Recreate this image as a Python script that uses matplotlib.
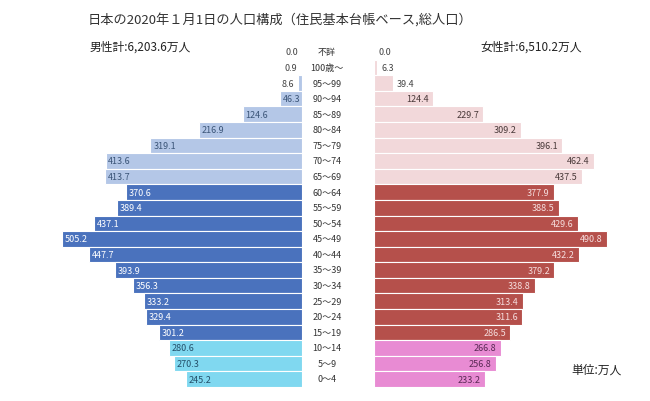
import matplotlib.pyplot as plt

plt.rcParams['font.family'] = ['Noto Sans CJK JP', 'DejaVu Sans']

ages = ['不詳', '100歳～', '95～99', '90～94', '85～89', '80～84', '75～79', '70～74',
        '65～69', '60～64', '55～59', '50～54', '45～49', '40～44', '35～39', '30～34',
        '25～29', '20～24', '15～19', '10～14', '5～9', '0～4']
male = [0.0, 0.9, 8.6, 46.3, 124.6, 216.9, 319.1, 413.6, 413.7, 370.6, 389.4, 437.1,
        505.2, 447.7, 393.9, 356.3, 333.2, 329.4, 301.2, 280.6, 270.3, 245.2]
female = [0.0, 6.3, 39.4, 124.4, 229.7, 309.2, 396.1, 462.4, 437.5, 377.9, 388.5, 429.6,
          490.8, 432.2, 379.2, 338.8, 313.4, 311.6, 286.5, 266.8, 256.8, 233.2]


def group(i):
    # 0 = 65+ (and unknown), 1 = 15-64, 2 = 0-14
    if i <= 8:
        return 0
    if i <= 18:
        return 1
    return 2


m_bar = ['#b4c7e7', '#4a72bd', '#80d8f0']
m_txt = ['#3b5578', 'white', '#24506a']
f_bar = ['#f2d8da', '#b5504b', '#e88bd3']
f_txt = ['#4a3a3a', '#f5dede', '#5a2a55']

W, H = 650, 402
fig = plt.figure(figsize=(6.5, 4.02), dpi=100)
xmax = 520
bottom = 1 - 387.8 / H
height = 342.6 / H
axl = fig.add_axes([302 / W - 247 / W, bottom, 247 / W, height])
axr = fig.add_axes([374 / W, bottom, 247 / W, height])

n = len(ages)
ys = list(range(n))
for ax in (axl, axr):
    ax.set_xlim(0, xmax)
    ax.set_ylim(n - 0.5, -0.5)
    ax.axis('off')
axl.invert_xaxis()

for i in ys:
    g = group(i)
    axl.barh(i, male[i], height=1.0, color=m_bar[g], edgecolor='white', linewidth=0.8)
    axr.barh(i, female[i], height=1.0, color=f_bar[g], edgecolor='white', linewidth=0.8)
    if male[i] >= 40:
        axl.annotate(f'{male[i]:.1f}', (male[i], i), xytext=(2, 0), textcoords='offset points',
                     ha='left', va='center', fontsize=6.5, color=m_txt[g])
    else:
        axl.annotate(f'{male[i]:.1f}', (male[i], i), xytext=(-3, 0), textcoords='offset points',
                     ha='right', va='center', fontsize=6.5, color='#444444')
    if female[i] >= 100:
        axr.annotate(f'{female[i]:.1f}', (female[i], i), xytext=(-3, 0), textcoords='offset points',
                     ha='right', va='center', fontsize=6.5, color=f_txt[g])
    else:
        axr.annotate(f'{female[i]:.1f}', (female[i], i), xytext=(3, 0), textcoords='offset points',
                     ha='left', va='center', fontsize=6.5, color='#444444')
    fig.text(327 / W, 1 - (53 + i * 15.57) / H, ages[i], ha='center', va='center',
             fontsize=6.5, color='#333333')

fig.text(88 / W, 1 - 20 / H, '日本の2020年１月1日の人口構成（住民基本台帳ベース,総人口）',
         ha='left', va='center', fontsize=9.5, color='#333333')
fig.text(90 / W, 1 - 47 / H, '男性計:6,203.6万人', ha='left', va='center', fontsize=8.5, color='#222222')
fig.text(582 / W, 1 - 47 / H, '女性計:6,510.2万人', ha='right', va='center', fontsize=8.5, color='#222222')
fig.text(622 / W, 1 - 370 / H, '単位:万人', ha='right', va='center', fontsize=8.5, color='#222222')

fig.savefig('out.png', dpi=100)
